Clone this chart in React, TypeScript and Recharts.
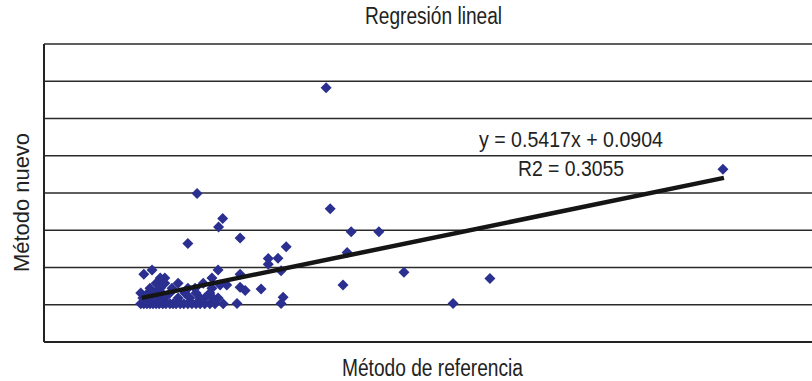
import React from 'react';
import { ScatterChart, Scatter, XAxis, YAxis, ZAxis, ReferenceLine } from 'recharts';

// valores (método de referencia vs método nuevo)
const refValues = [
  0.551, 1.326, 0.299, 0.349, 0.341, 0.559, 0.281, 0.383, 0.600, 0.654,
  0.473, 0.592, 0.438, 0.457, 0.438, 0.463, 0.383, 0.703, 0.871, 0.584,
  0.383, 0.393, 0.424, 0.467, 0.463, 0.377, 0.799, 0.340, 0.195, 0.211,
  0.236, 0.227, 0.219, 0.236, 0.262, 0.311, 0.344, 0.328, 0.357,
  0.207, 0.227, 0.250, 0.281, 0.295, 0.328,
  0.189, 0.203, 0.217, 0.230, 0.246, 0.275, 0.297, 0.324,
  0.193, 0.207, 0.223, 0.236, 0.262, 0.285, 0.305, 0.314, 0.330, 0.340,
  0.189, 0.195, 0.201, 0.207, 0.213, 0.219, 0.225, 0.232, 0.238, 0.246,
  0.252, 0.258, 0.266, 0.273, 0.281, 0.289, 0.297, 0.305, 0.314, 0.324,
  0.334, 0.350,
];
const newValues = [
  1.365, 0.927, 0.797, 0.663, 0.618, 0.715, 0.529, 0.559, 0.592, 0.592,
  0.511, 0.481, 0.448, 0.449, 0.418, 0.382, 0.364, 0.375, 0.341, 0.306,
  0.294, 0.276, 0.284, 0.240, 0.207, 0.207, 0.207, 0.386, 0.364, 0.386,
  0.343, 0.343, 0.316, 0.316, 0.316, 0.316, 0.306, 0.343, 0.306,
  0.289, 0.289, 0.289, 0.289, 0.289, 0.289,
  0.263, 0.263, 0.263, 0.263, 0.263, 0.263, 0.263, 0.263,
  0.236, 0.236, 0.236, 0.236, 0.236, 0.236, 0.236, 0.236, 0.236, 0.236,
  0.206, 0.206, 0.206, 0.206, 0.206, 0.206, 0.206, 0.206, 0.206, 0.206,
  0.206, 0.206, 0.206, 0.206, 0.206, 0.206, 0.206, 0.206, 0.206, 0.206,
  0.206, 0.206,
];

// extremos de la línea de tendencia
const trendX = [0.191, 1.328];
const trendY = [0.237, 0.881];

const yTicks = [0, 0.2, 0.4, 0.6, 0.8, 1.0, 1.2, 1.4, 1.6];

const points = refValues.map((x, i) => ({ x, y: newValues[i] }));
const trend = trendX.map((x, i) => ({ x, y: trendY[i] }));

const FONT = "'Liberation Sans Narrow', 'Arial Narrow', 'Liberation Sans', Arial, sans-serif";

const Diamond = (props: any) => {
  const { cx, cy } = props;
  const r = 5.5;
  return <polygon points={`${cx},${cy - r} ${cx + r},${cy} ${cx},${cy + r} ${cx - r},${cy}`} fill="#2b2f8f" />;
};

export default function App() {
  return (
    <div style={{ position: 'relative', width: 812, height: 381, background: '#fff' }}>
      <style>{'body{margin:0}'}</style>
      <ScatterChart width={812} height={381} margin={{ top: 44, right: 0, left: 0, bottom: 38 }}>
        {yTicks.slice(1).map((t) => (
          <ReferenceLine key={t} y={t} stroke="#2a2a2a" strokeWidth={1.7} />
        ))}
        <XAxis type="number" dataKey="x" domain={[0, 1.5]} tick={false} tickLine={false} height={1}
          axisLine={{ stroke: '#222', strokeWidth: 2 }} />
        <YAxis type="number" dataKey="y" domain={[0, 1.6]} ticks={yTicks} tick={false} tickLine={false} width={44}
          axisLine={{ stroke: '#222', strokeWidth: 2 }} />
        <ZAxis range={[60, 60]} />
        <Scatter data={points} shape={Diamond} isAnimationActive={false} />
        <Scatter data={trend} shape={() => <g />} line={{ stroke: '#151515', strokeWidth: 4.5 }} isAnimationActive={false} />
      </ScatterChart>
      <svg width={812} height={381} style={{ position: 'absolute', left: 0, top: 0, pointerEvents: 'none' }}>
        <g fontFamily={FONT} fill="#222">
          <text x={365} y={24} fontSize={23} textLength={137} lengthAdjust="spacingAndGlyphs">Regresión lineal</text>
          <text x={342} y={376} fontSize={23} textLength={181} lengthAdjust="spacingAndGlyphs">Método de referencia</text>
          <text x={0} y={0} fontSize={22} textLength={139} lengthAdjust="spacingAndGlyphs"
            transform="translate(29,272) rotate(-90)">Método nuevo</text>
          <text x={479} y={147} fontSize={22} textLength={184} lengthAdjust="spacingAndGlyphs">y = 0.5417x + 0.0904</text>
          <text x={518} y={176} fontSize={22} textLength={106} lengthAdjust="spacingAndGlyphs">R2 = 0.3055</text>
        </g>
      </svg>
    </div>
  );
}
